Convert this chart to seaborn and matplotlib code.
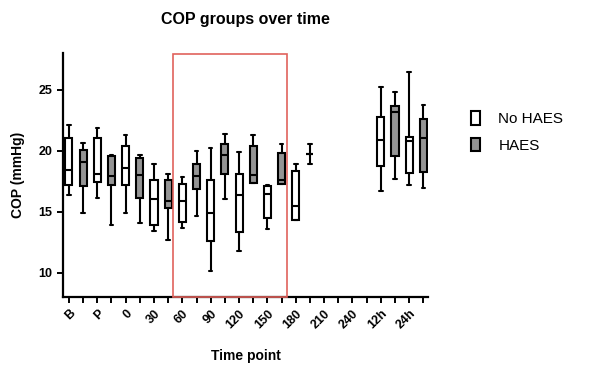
import numpy as np
import pandas as pd
import matplotlib
matplotlib.use("Agg")
import matplotlib.pyplot as plt
from matplotlib.patches import Patch, Rectangle
import seaborn as sns

# time points on the x axis
time_points = ['B', 'P', '0', '30', '60', '90', '120', '150', '180', '210', '240', '12h', '24h']

# box summaries (min, q1, median, q3, max), None = no data
no_haes_min = [16.4, 16.15, 14.86, 13.4, 13.68, 10.1, 11.79, 13.57, 14.31, None, None, 16.65, 17.14]
no_haes_q1 = [17.14, 17.39, 17.14, 13.9, 14.12, 12.61, 13.32, 14.45, 14.31, None, None, 18.71, 18.16]
no_haes_med = [18.38, 18.1, 18.57, 16.07, 15.9, 14.86, 16.37, 16.46, 15.49, None, None, 20.85, 20.82]
no_haes_q3 = [21.04, 21.04, 20.41, 17.55, 17.28, 17.55, 18.08, 17.06, 18.3, None, None, 22.77, 21.1]
no_haes_max = [22.09, 21.84, 21.26, 18.9, 17.83, 20.22, 19.89, 17.14, 18.93, None, None, 25.25, 26.48]

haes_min = [14.86, 13.9, 14.1, 12.66, 14.67, 16.07, 17.34, 17.28, 18.9, None, None, 17.66, 16.9]
haes_q1 = [17.06, 17.14, 16.1, 15.33, 16.84, 18.05, 17.34, 17.28, 19.73, None, None, 19.59, 18.24]
haes_med = [19.04, 17.94, 17.97, 15.9, 17.94, 19.67, 18.02, 17.6, 19.73, None, None, 23.16, 21.02]
haes_q3 = [20.03, 19.53, 19.4, 17.6, 18.93, 20.58, 20.41, 19.81, 19.73, None, None, 23.65, 22.61]
haes_max = [20.63, 19.6, 19.6, 18.05, 20.0, 21.37, 21.24, 20.55, 20.52, None, None, 24.81, 23.71]

groups = ['No HAES', 'HAES']
colors = {'No HAES': 'white', 'HAES': '#949494'}

# five points per box -> quartiles come out exactly, whiskers go min to max
rows = []
stats = {'No HAES': [no_haes_min, no_haes_q1, no_haes_med, no_haes_q3, no_haes_max],
         'HAES': [haes_min, haes_q1, haes_med, haes_q3, haes_max]}
for g in groups:
    for i, t in enumerate(time_points):
        if stats[g][0][i] is None:
            continue
        for s in stats[g]:
            rows.append({'time': t, 'group': g, 'cop': s[i]})
df = pd.DataFrame(rows)

sns.set_style("ticks")
plt.rcParams['font.family'] = ['Liberation Sans', 'DejaVu Sans']
plt.rcParams['text.color'] = 'black'
plt.rcParams['axes.labelcolor'] = 'black'

fig = plt.figure(figsize=(5.93, 3.72), dpi=100)
ax = fig.add_axes([0.1062, 0.2016, 0.6156, 0.6559])

sns.boxplot(data=df, x='time', y='cop', hue='group', order=time_points, hue_order=groups,
            palette=colors, width=1.0, gap=0.5, whis=(0, 100), linecolor='black',
            linewidth=1.5, fliersize=0, legend=False, ax=ax)

# one tick per box, label every second one
pos = []
labels = []
for i, t in enumerate(time_points):
    pos += [i - 0.25, i + 0.25]
    labels += [t, '']
ax.set_xticks(pos)
ax.set_xticklabels(labels, rotation=45, ha='right', rotation_mode='anchor',
                   fontsize=9, fontweight='bold')
ax.set_xlim(-0.46, 12.415)
ax.set_ylim(8, 28)
ax.set_yticks([10, 15, 20, 25])
for lab in ax.get_yticklabels():
    lab.set_fontweight('bold')
    lab.set_fontsize(9)

sns.despine(ax=ax)
for s in ['left', 'bottom']:
    ax.spines[s].set_linewidth(1.6)
    ax.spines[s].set_color('black')
ax.tick_params(axis='both', width=1.4, length=4, color='black', labelcolor='black')

ax.add_patch(Rectangle((3.41, 8), 4.02, 19.9, fill=False, edgecolor='#e0625c',
                       linewidth=1.2, clip_on=False, zorder=5))

ax.set_title('COP groups over time', fontsize=11.5, fontweight='bold', pad=21, color='black')
ax.set_ylabel('COP (mmHg)', fontsize=10, fontweight='bold', labelpad=10)
ax.set_xlabel('Time point', fontsize=10, fontweight='bold')
ax.xaxis.set_label_coords(0.5, -0.215)

handles = [Patch(facecolor=colors[g], edgecolor='black', linewidth=1.5, label=g) for g in groups]
fig.legend(handles=handles, loc='upper left', bbox_to_anchor=(471 / 593, 1 - 111 / 372),
           frameon=False, handlelength=0.6, handleheight=1.0, handletextpad=1.2,
           labelspacing=0.75, borderpad=0, borderaxespad=0, fontsize=11)

fig.savefig('out.png', dpi=100)
